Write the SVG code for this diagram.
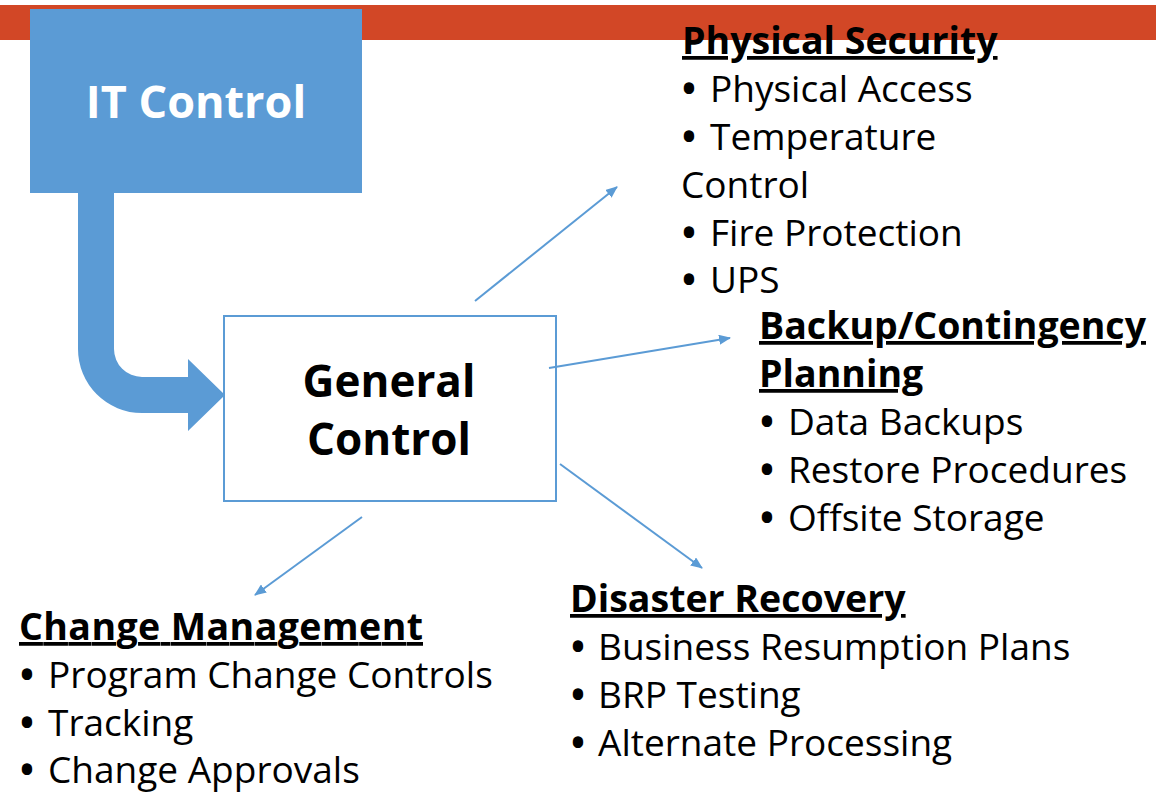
<svg xmlns="http://www.w3.org/2000/svg" width="1156" height="795" viewBox="0 0 1156 795">
  <style>
    .body { font-family: "Open Sans", "Noto Sans", sans-serif; font-size: 37px; fill: #000; }
    .dot { font-weight: bold; }
    .head { font-family: "Open Sans", "Noto Sans", sans-serif; font-size: 37.5px; font-weight: bold; fill: #000; text-decoration: underline; }
    .big { font-family: "Open Sans", "Noto Sans", sans-serif; font-weight: bold; text-anchor: middle; }
    .conn { stroke: #5B9BD5; stroke-width: 2; fill: none; marker-end: url(#arrow); }
  </style>
  <defs>
    <marker id="arrow" viewBox="0 0 12 10" refX="11" refY="5" markerWidth="12" markerHeight="10" markerUnits="userSpaceOnUse" orient="auto">
      <path d="M0 0 L12 5 L0 10 Z" fill="#5B9BD5"/>
    </marker>
  </defs>

  <rect width="1156" height="795" fill="#fff"/>
  <!-- title band -->
  <rect x="0" y="5" width="1156" height="35" fill="#D24726"/>

  <g id="it-control">
    <rect x="30" y="9" width="332" height="184" fill="#5B9BD5"/>
    <text class="big" x="196" y="118" font-size="45" fill="#fff">IT Control</text>
  </g>

  <!-- bent block arrow from IT Control into General Control -->
  <g id="it-to-general">
    <path d="M78 193 L114 193 L114 349 A28 28 0 0 0 142 377 L188 377 L188 359 L225 395 L188 431 L188 413 L142 413 A64 64 0 0 1 78 349 Z" fill="#5B9BD5"/>
  </g>

  <g id="general-control">
    <rect x="224" y="316" width="332" height="185" fill="#fff" stroke="#5B9BD5" stroke-width="2"/>
    <text class="big" x="389" y="397" font-size="44" fill="#000">General</text>
    <text class="big" x="389" y="455" font-size="44" fill="#000">Control</text>
  </g>

  <g id="connectors">
    <line class="conn" x1="475" y1="301" x2="617" y2="187"/>
    <line class="conn" x1="549" y1="368" x2="730" y2="338"/>
    <line class="conn" x1="560" y1="464" x2="702" y2="568"/>
    <line class="conn" x1="362" y1="517" x2="255" y2="595"/>
  </g>

  <g id="physical-security">
    <text class="head" x="682" y="54">Physical Security</text>
    <text class="body" y="102"><tspan class="dot" x="682">•</tspan><tspan x="710">Physical Access</tspan></text>
    <text class="body" y="150"><tspan class="dot" x="682">•</tspan><tspan x="710">Temperature</tspan></text>
    <text class="body" x="681" y="198">Control</text>
    <text class="body" y="246"><tspan class="dot" x="682">•</tspan><tspan x="710">Fire Protection</tspan></text>
    <text class="body" y="293"><tspan class="dot" x="682">•</tspan><tspan x="710">UPS</tspan></text>
  </g>

  <g id="backup-planning">
    <text class="head" x="759" y="339">Backup/Contingency</text>
    <text class="head" x="759" y="387">Planning</text>
    <text class="body" y="435"><tspan class="dot" x="760">•</tspan><tspan x="788">Data Backups</tspan></text>
    <text class="body" y="483"><tspan class="dot" x="760">•</tspan><tspan x="788">Restore Procedures</tspan></text>
    <text class="body" y="531"><tspan class="dot" x="760">•</tspan><tspan x="788">Offsite Storage</tspan></text>
  </g>

  <g id="disaster-recovery">
    <text class="head" x="570" y="612">Disaster Recovery</text>
    <text class="body" y="660"><tspan class="dot" x="571">•</tspan><tspan x="598">Business Resumption Plans</tspan></text>
    <text class="body" y="708"><tspan class="dot" x="571">•</tspan><tspan x="598">BRP Testing</tspan></text>
    <text class="body" y="756"><tspan class="dot" x="571">•</tspan><tspan x="598">Alternate Processing</tspan></text>
  </g>

  <g id="change-management">
    <text class="head" x="19" y="640" textLength="404" lengthAdjust="spacing">Change Management</text>
    <text class="body" y="688"><tspan class="dot" x="20">•</tspan><tspan x="48">Program Change Controls</tspan></text>
    <text class="body" y="736"><tspan class="dot" x="20">•</tspan><tspan x="48">Tracking</tspan></text>
    <text class="body" y="783"><tspan class="dot" x="20">•</tspan><tspan x="48">Change Approvals</tspan></text>
  </g>
</svg>
